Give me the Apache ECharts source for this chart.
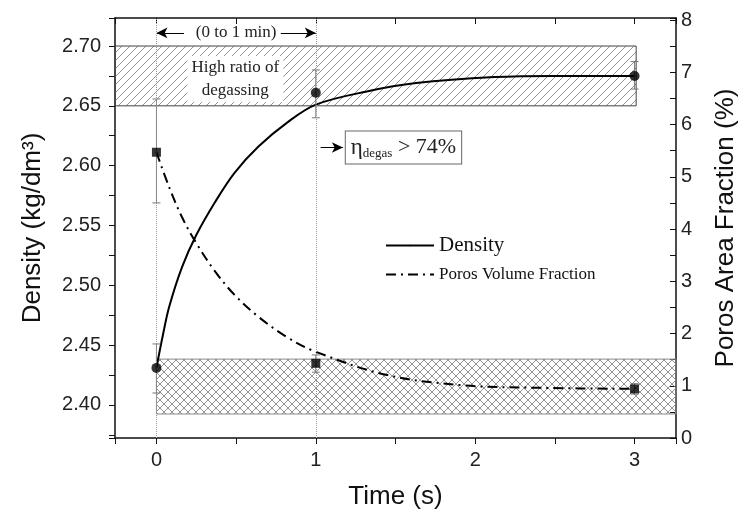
<!DOCTYPE html>
<html lang="en">
<head>
<meta charset="UTF-8">
<title>Density and poros fraction vs time</title>
<script src="https://cdn.jsdelivr.net/npm/echarts@6/dist/echarts.min.js"></script>
</head>
<body style="margin:0;background:#fff;">
<div id="app" style="width:747px;height:518px;"></div>
<script>
// measured points (time in s)
const sampleTimes = [0, 1, 3];
const densityValues = [2.431, 2.661, 2.675];
const densityErrLow = [2.41, 2.64, 2.664];
const densityErrHigh = [2.451, 2.68, 2.687];
const porosValues = [5.47, 1.43, 0.94];
const porosErrLow = [4.50, 1.26, 0.84];
const porosErrHigh = [6.49, 1.59, 1.04];

// fitted curves
const densityFitTimes = [0, 0.04, 0.08, 0.16, 0.25, 0.37, 0.49, 0.64, 0.82, 1.0, 1.32, 1.63, 2.12, 2.5, 3.0];
const densityFitValues = [2.431, 2.458, 2.482, 2.515, 2.542, 2.570, 2.594, 2.616, 2.636, 2.651, 2.662, 2.669, 2.674, 2.675, 2.675];
const porosFitTimes = [0, 0.08, 0.16, 0.25, 0.37, 0.49, 0.64, 0.82, 1.0, 1.44, 1.92, 2.43, 3.0];
const porosFitValues = [5.47, 4.80, 4.23, 3.73, 3.18, 2.74, 2.32, 1.93, 1.65, 1.21, 1.01, 0.96, 0.94];

// tick labels
const xLabels = ['0', '1', '2', '3'];
const leftLabels = ['2.40', '2.45', '2.50', '2.55', '2.60', '2.65', '2.70'];
const rightLabels = ['0', '1', '2', '3', '4', '5', '6', '7', '8'];

// shaded bands
const highBand = [-0.26, 3.01, 2.65, 2.70];   // x0, x1, density lo, hi
const lowBand = [0, 3.26, 0.46, 1.51];        // x0, x1, poros lo, hi

function hatch(cross) {
    const c = document.createElement('canvas');
    c.width = c.height = 8;
    const g = c.getContext('2d');
    g.strokeStyle = '#777';
    g.lineWidth = 0.8;
    g.beginPath();
    g.moveTo(0, 8); g.lineTo(8, 0);
    g.moveTo(-1, 1); g.lineTo(1, -1);
    g.moveTo(7, 9); g.lineTo(9, 7);
    if (cross) {
        g.moveTo(0, 0); g.lineTo(8, 8);
        g.moveTo(-1, 7); g.lineTo(1, 9);
        g.moveTo(7, -1); g.lineTo(9, 1);
    }
    g.stroke();
    return c;
}

const pairs = (xs, ys) => xs.map((x, i) => [x, ys[i]]);
const errRows = (lo, hi) => sampleTimes.map((t, i) => [t, lo[i], hi[i]]);

function errorBar(params, api) {
    const x = api.value(0);
    const lo = api.coord([x, api.value(1)]);
    const hi = api.coord([x, api.value(2)]);
    const w = 4;
    const st = { stroke: '#777', lineWidth: 1 };
    return {
        type: 'group',
        children: [
            { type: 'line', shape: { x1: lo[0], y1: lo[1], x2: hi[0], y2: hi[1] }, style: st },
            { type: 'line', shape: { x1: lo[0] - w, y1: lo[1], x2: lo[0] + w, y2: lo[1] }, style: st },
            { type: 'line', shape: { x1: hi[0] - w, y1: hi[1], x2: hi[0] + w, y2: hi[1] }, style: st }
        ]
    };
}

const sans = 'Liberation Sans, Arial, sans-serif';
const serif = 'Liberation Serif, Times New Roman, serif';
const axisLineStyle = { color: '#111', width: 1.5 };
const labelStyle = { color: '#222', fontFamily: sans, fontSize: 20 };
const nameStyle = { color: '#111', fontFamily: sans, fontSize: 26 };

const myChart = echarts.init(document.getElementById('app'));
const options = {
    animation: false,
    grid: { left: 115, right: 64, top: 18, bottom: 80 },
    legend: {
        left: 380, top: 230, orient: 'vertical',
        itemWidth: 48, itemHeight: 2, itemGap: 10,
        data: [
            { name: 'Density', textStyle: { fontSize: 21 } },
            { name: 'Poros Volume Fraction', textStyle: { fontSize: 17 } }
        ],
        textStyle: { fontFamily: serif, color: '#111' }
    },
    xAxis: [{
        type: 'value', min: -0.26, max: 3.26, minInterval: 0.5, maxInterval: 0.5,
        name: 'Time (s)', nameLocation: 'middle', nameGap: 46, nameTextStyle: nameStyle,
        axisLine: { onZero: false, lineStyle: axisLineStyle },
        axisTick: { length: 6, lineStyle: { color: '#111' } },
        axisLabel: Object.assign({ margin: 12, formatter: v => {
            const s = String(Math.round(v * 100) / 100);
            return xLabels.includes(s) ? s : '';
        } }, labelStyle),
        splitLine: { show: false }
    }, {
        type: 'value', position: 'top', min: -0.26, max: 3.26, minInterval: 0.5, maxInterval: 0.5,
        axisLine: { onZero: false, lineStyle: axisLineStyle },
        axisTick: { inside: true, length: 6, lineStyle: { color: '#111' } },
        axisLabel: { show: false },
        splitLine: { show: false }
    }],
    yAxis: [{
        type: 'value', min: 2.3724, max: 2.7234, minInterval: 0.025, maxInterval: 0.025,
        name: 'Density (kg/dm³)', nameLocation: 'middle', nameGap: 69, nameTextStyle: nameStyle,
        axisLine: { show: true, onZero: false, lineStyle: axisLineStyle },
        axisTick: { show: true, length: 6, lineStyle: { color: '#111' } },
        axisLabel: Object.assign({ margin: 14, formatter: v => {
            const s = v.toFixed(2);
            return leftLabels.includes(s) && Math.abs(v * 20 - Math.round(v * 20)) < 1e-6 ? s : '';
        } }, labelStyle),
        splitLine: { show: false }
    }, {
        type: 'value', min: 0, max: 8.04, interval: 0.5, position: 'right',
        name: 'Poros Area Fraction (%)', nameLocation: 'middle', nameGap: 37, nameTextStyle: nameStyle,
        axisLine: { show: true, onZero: false, lineStyle: axisLineStyle },
        axisTick: { show: true, inside: true, length: 6, lineStyle: { color: '#111' } },
        axisLabel: Object.assign({ margin: 5, formatter: v => {
            const s = String(Math.round(v * 100) / 100);
            return rightLabels.includes(s) ? s : '';
        } }, labelStyle),
        splitLine: { show: false }
    }],
    series: [{
        name: 'Density', type: 'line', yAxisIndex: 0, z: 3,
        data: pairs(densityFitTimes, densityFitValues),
        smooth: 0.35, symbol: 'none',
        lineStyle: { color: '#000', width: 2 },
        itemStyle: { color: '#000' },
        markArea: {
            silent: true,
            itemStyle: { color: { image: hatch(false), repeat: 'repeat' }, borderColor: '#444', borderWidth: 1 },
            data: [[{ coord: [highBand[0], highBand[3]] }, { coord: [highBand[1], highBand[2]] }]]
        },
        markLine: {
            silent: true, symbol: ['none', 'arrow'], symbolSize: [8, 11],
            label: { show: false },
            lineStyle: { color: '#000', type: 'solid', width: 1 },
            data: [
                [{ coord: [0.173, 2.7109] }, { coord: [0, 2.7109] }],
                [{ coord: [0.78, 2.7109] }, { coord: [1.0, 2.7109] }],
                [{ coord: [1.03, 2.6152] }, { coord: [1.17, 2.6152] }]
            ]
        },
        markPoint: {
            silent: true, symbol: 'rect', symbolSize: 0,
            data: [{
                coord: [0.5, 2.7109],
                label: { show: true, formatter: '(0 to 1 min)', fontFamily: serif, fontSize: 17, color: '#222', backgroundColor: '#fff', padding: [0, 3] }
            }, {
                coord: [0.495, 2.6724],
                label: { show: true, formatter: 'High ratio of\ndegassing', fontFamily: serif, fontSize: 17, lineHeight: 23, color: '#222', backgroundColor: '#fff', padding: [0, 4] }
            }, {
                coord: [1.55, 2.6152],
                label: {
                    show: true,
                    formatter: '{eta|η}{sub|degas}{gt| > 74%}',
                    backgroundColor: '#fff', borderColor: '#666', borderWidth: 1, padding: [3, 5],
                    rich: {
                        eta: { fontFamily: serif, fontSize: 23, color: '#222', lineHeight: 26 },
                        sub: { fontFamily: serif, fontSize: 13, color: '#222', verticalAlign: 'bottom', lineHeight: 26, padding: [10, 0, 0, 0] },
                        gt: { fontFamily: serif, fontSize: 22, color: '#222', lineHeight: 26 }
                    }
                }
            }]
        }
    }, {
        name: 'Poros Volume Fraction', type: 'line', yAxisIndex: 1, z: 3,
        data: pairs(porosFitTimes, porosFitValues),
        smooth: 0.35, symbol: 'none',
        lineStyle: { color: '#000', width: 2, type: [10, 5, 2, 5] },
        itemStyle: { color: '#000' },
        markArea: {
            silent: true,
            itemStyle: { color: { image: hatch(true), repeat: 'repeat' }, borderColor: '#888', borderWidth: 1 },
            data: [[{ coord: [lowBand[0], lowBand[3]] }, { coord: [lowBand[1], lowBand[2]] }]]
        },
        markLine: {
            silent: true, symbol: 'none',
            label: { show: false },
            lineStyle: { color: '#999', type: 'dotted', width: 1 },
            data: [{ xAxis: 0 }, { xAxis: 1 }]
        }
    }, {
        name: 'densityErr', type: 'custom', yAxisIndex: 0, z: 4,
        renderItem: errorBar, encode: { x: 0, y: [1, 2] },
        data: errRows(densityErrLow, densityErrHigh)
    }, {
        name: 'porosErr', type: 'custom', yAxisIndex: 1, z: 4,
        renderItem: errorBar, encode: { x: 0, y: [1, 2] },
        data: errRows(porosErrLow, porosErrHigh)
    }, {
        name: 'densityPts', type: 'scatter', yAxisIndex: 0, z: 5,
        data: pairs(sampleTimes, densityValues),
        symbol: 'circle', symbolSize: 10, itemStyle: { color: '#000' }
    }, {
        name: 'porosPts', type: 'scatter', yAxisIndex: 1, z: 5,
        data: pairs(sampleTimes, porosValues),
        symbol: 'rect', symbolSize: 9, itemStyle: { color: '#000' }
    }]
};
myChart.setOption(options);
</script>
</body>
</html>
